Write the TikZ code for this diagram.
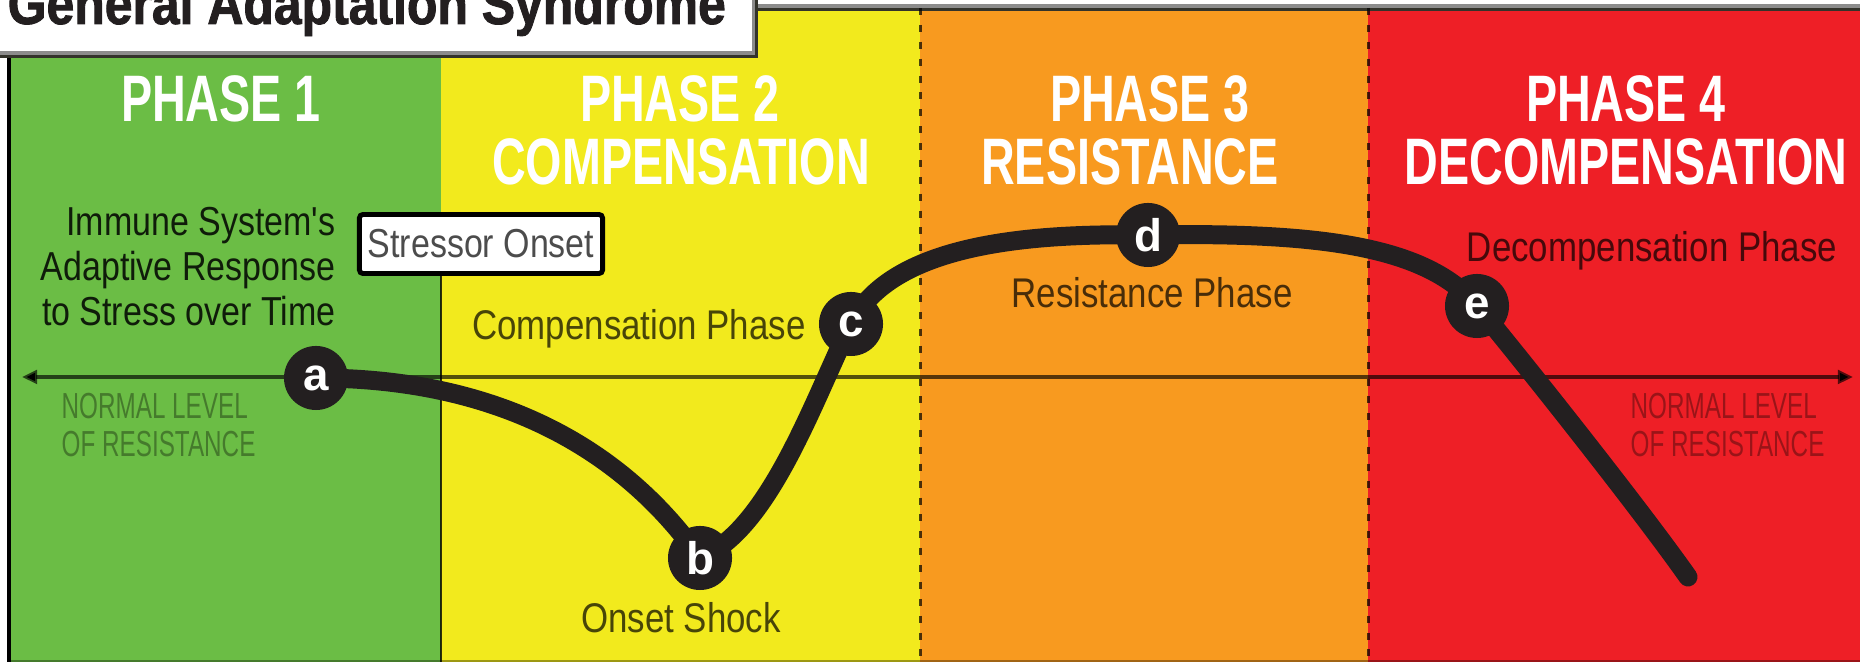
\documentclass[tikz,border=0pt]{standalone}
\usepackage{fontspec}
\setmainfont{Liberation Sans}
\newfontfamily\headfont{Liberation Sans}[FakeStretch=0.86, FakeBold=1.5]
\newfontfamily\titlefont{Liberation Sans}[FakeStretch=0.71]
\newfontfamily\labelfont{Liberation Sans}[FakeStretch=0.84]
\newfontfamily\levelfont{Liberation Sans}[FakeStretch=0.67]
\usetikzlibrary{arrows.meta}
\definecolor{phasegreen}{HTML}{6BBD45}
\definecolor{phaseyellow}{HTML}{F2EA1D}
\definecolor{phaseorange}{HTML}{F89A1F}
\definecolor{phasered}{HTML}{EE1F26}
\definecolor{inkdark}{HTML}{231F20}
\definecolor{shadowgray}{HTML}{8C8C8C}
\definecolor{framedark}{HTML}{33332B}

\begin{document}
\begin{tikzpicture}[x=0.01cm, y=-0.01cm,
  phasetitle/.style={anchor=base, inner sep=0, text=white,
    font=\titlefont\bfseries\fontsize{18.7}{18}\selectfont},
  phaselabel/.style={anchor=base, inner sep=0, text=black, text opacity=0.7,
    font=\labelfont\fontsize{11.8}{14}\selectfont},
  levellabel/.style={anchor=north west, inner sep=0, align=left, text=black,
    text opacity=0.35, font=\levelfont\fontsize{10.3}{10.8}\selectfont},
  stagedot/.style={circle, fill=inkdark, text=white, inner sep=0,
    minimum size=0.64cm, font=\bfseries\fontsize{13}{13}\selectfont},
  stresscurve/.style={inkdark, line width=5.4pt, line cap=round},
  levelaxis/.style={black, draw opacity=0.65, line width=1.1pt,
    {Triangle[length=4.3pt, width=3.8pt]}-{Triangle[length=4.3pt, width=3.8pt]}},
  phasedash/.style={black, draw opacity=0.7, line width=0.85pt,
    dash pattern=on 2pt off 2.8pt}]
\useasboundingbox (0,0) rectangle (1860,662);
\clip (0,0) rectangle (1860,662);
\fill[white] (0,0) rectangle (1860,662);

% Phase panels
\fill[shadowgray] (0,4) rectangle (1860,8);
\fill[phasegreen] (11,8) rectangle (441,662);
\fill[phaseyellow] (441,8) rectangle (920,662);
\fill[phaseorange] (920,8) rectangle (1368,662);
\fill[phasered] (1368,8) rectangle (1860,662);
\draw[framedark, line width=0.85pt] (0,9.5) -- (1860,9.5);
\draw[black, line width=1.1pt] (9,8) -- (9,662);
\draw[black, draw opacity=0.35, line width=0.6pt] (11,661) -- (1860,661);
\draw[phasedash] (920,8) -- (920,662);
\draw[phasedash] (1368,8) -- (1368,662);

% Title tab
\fill[framedark] (0,0) rectangle (758,58);
\fill[shadowgray] (0,0) rectangle (755,55);
\fill[white] (0,0) rectangle (752,51);
\node[anchor=base west, inner sep=0, text=inkdark,
  font=\headfont\bfseries\fontsize{16.5}{16}\selectfont] (title) at (7,24)
  {General Adaptation Syndrome};

% Phase headings
\node[phasetitle] (ph1) at (221,122) {PHASE 1};
\node[phasetitle] (ph2) at (680,122) {PHASE 2};
\node[phasetitle] (ph2sub) at (681,185) {COMPENSATION};
\node[phasetitle] (ph3) at (1150,122) {PHASE 3};
\node[phasetitle] (ph3sub) at (1130,185) {RESISTANCE};
\node[phasetitle] (ph4) at (1626,122) {PHASE 4};
\node[phasetitle] (ph4sub) at (1626,185) {DECOMPENSATION};

% Normal level axis
\coordinate (axisleft) at (22,377);
\coordinate (axisright) at (1853,377);
\draw[levelaxis] (axisleft) -- (axisright);
\node[levellabel] (normleft) at (61,393) {NORMAL LEVEL\\OF RESISTANCE};
\node[levellabel] (normright) at (1630,393) {NORMAL LEVEL\\OF RESISTANCE};

% Captions
\node[anchor=north east, inner sep=0, align=right, text=black, text opacity=0.85,
  font=\labelfont\fontsize{11.5}{12.8}\selectfont] (caption) at (336,207)
  {Immune System's\\Adaptive Response\\to Stress over Time};
\node[draw=black, line width=1.4pt, fill=white, rounded corners=1pt,
  minimum width=2.43cm, minimum height=0.59cm, inner sep=0, text=black,
  text opacity=0.7, font=\labelfont\fontsize{11.5}{12}\selectfont]
  (stressor) at (481,244) {Stressor Onset};
\draw[black, draw opacity=0.8, line width=0.85pt] (441,276) -- (441,662);
\node[phaselabel] (complabel) at (639,340) {Compensation Phase};
\node[phaselabel] (shocklabel) at (681,633) {Onset Shock};
\node[phaselabel] (resistlabel) at (1152,308) {Resistance Phase};
\node[phaselabel] (decomplabel) at (1652,262) {Decompensation Phase};

% Stress response curve
\coordinate (pa) at (316,378);
\coordinate (pb) at (700,558);
\coordinate (pc) at (851,324);
\coordinate (pd) at (1148,235);
\coordinate (pe) at (1477,306);
\coordinate (tail) at (1688,577);
\draw[stresscurve] (pa) .. controls (550,378) and (655,495) .. (pb)
  .. controls (770,530) and (815,396) .. (pc)
  .. controls (891,244) and (1028,233) .. (pd)
  .. controls (1320,232) and (1427,246) .. (pe)
  .. controls (1517,354) and (1638,506) .. (tail);
\node[stagedot] (a) at (pa) {a};
\node[stagedot] (b) at (pb) {b};
\node[stagedot] (c) at (pc) {c};
\node[stagedot] (d) at (pd) {d};
\node[stagedot] (e) at (pe) {e};
\end{tikzpicture}
\end{document}
